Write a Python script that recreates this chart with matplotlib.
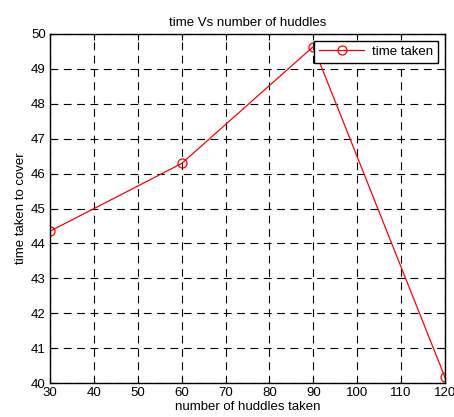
import matplotlib
matplotlib.use("Agg")
import matplotlib.pyplot as plt

huddles = [30, 60, 90, 120]
time_taken = [44.35, 46.29, 49.64, 40.16]
xticks = [30, 40, 50, 60, 70, 80, 90, 100, 110, 120]
yticks = [40, 41, 42, 43, 44, 45, 46, 47, 48, 49, 50]

plt.rcParams['font.family'] = ['Liberation Sans', 'DejaVu Sans']
fig = plt.figure(figsize=(4.54, 4.17), dpi=100)
ax = fig.add_axes([50/454, 1 - 383/417, (445-50)/454, (383-34)/417])
ax.plot(huddles, time_taken, color='red', linewidth=0.9, marker='o',
        markersize=6.5, markerfacecolor='none', markeredgecolor='red',
        markeredgewidth=0.9, label='time taken')
ax.set_xlim(30, 120)
ax.set_ylim(40, 50)
ax.set_xticks(xticks)
ax.set_yticks(yticks)
ax.tick_params(direction='in', top=True, right=True, length=4, width=0.8,
               labelsize=9.5, pad=3)
ax.grid(True, color='black', linestyle=(0, (7, 5)), linewidth=0.8)
for s in ax.spines.values():
    s.set_linewidth(1.0)
ax.set_title('time Vs number of huddles', fontsize=9.5, pad=6)
ax.set_xlabel('number of huddles taken', fontsize=9.5, labelpad=1)
ax.set_ylabel('time taken to cover', fontsize=9.5, labelpad=3)
leg = ax.legend(loc='upper right', fontsize=9.5, fancybox=False,
                edgecolor='black', framealpha=1, borderaxespad=0.5,
                handlelength=3.4, borderpad=0.4, handletextpad=0.6)
leg.get_frame().set_linewidth(1.0)
fig.savefig('out.png', dpi=100)
